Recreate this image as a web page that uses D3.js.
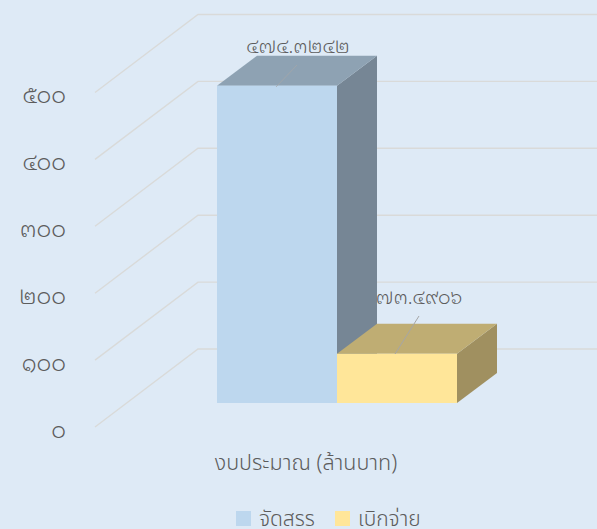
<!DOCTYPE html>
<html><head><meta charset="utf-8">
<script src="https://cdnjs.cloudflare.com/ajax/libs/d3/7.8.5/d3.min.js"></script>
<style>html,body{margin:0;padding:0;background:#deeaf6;overflow:hidden}
text{fill:#5c5c5c}
.d{font-family:"Noto Sans Thai Looped","DejaVu Sans",sans-serif;font-weight:300}
.t{font-family:"Noto Sans Thai","DejaVu Sans",sans-serif;font-weight:300}</style>
</head><body><svg id="c" width="597" height="529"></svg>
<script>
const tickValues=[0,100,200,300,400,500];
const tickLabels=["๐","๑๐๐","๒๐๐","๓๐๐","๔๐๐","๕๐๐"];
const seriesNames=["จัดสรร","เบิกจ่าย"];
const seriesValues=[474.3242,73.4906];
const valueLabels=["๔๗๔.๓๒๔๒","๗๓.๔๙๐๖"];
const category="งบประมาณ (ล้านบาท)";
const faceColors=[["#bdd7ee","#8ea2b3","#768695"],["#ffe699","#bfad73","#a09060"]];
const legendColors=["#bdd7ee","#ffe699"];

const svg=d3.select("#c");
const wallY=d3.scaleLinear().domain([0,500]).range([427,92.5]);
const barY=d3.scaleLinear().domain([0,500]).range([403,68.5]);
const x=d3.scaleBand().domain(seriesNames).range([217,457]).padding(0);
const depthFull={dx:103,dy:-78}, depthBar={dx:40,dy:-30};
const line=d3.line();

const grid=svg.append("g");
tickValues.forEach(v=>{
  grid.append("path").attr("d",line([[95,wallY(v)],[95+depthFull.dx,wallY(v)+depthFull.dy],[597,wallY(v)+depthFull.dy]]))
    .attr("fill","none").attr("stroke","#d9dad9").attr("stroke-width",1.4);
});
svg.append("g").selectAll("text").data(tickValues).join("text").attr("class","d")
  .attr("x",66).attr("y",v=>wallY(v)+10.5).attr("text-anchor","end")
  .attr("font-size",23).text((v,i)=>tickLabels[i]);

seriesNames.forEach((s,i)=>{
  const v=seriesValues[i],x0=x(s),x1=x0+x.bandwidth(),y0=barY(0),y1=barY(v),c=faceColors[i],g=svg.append("g");
  const {dx,dy}=depthBar;
  g.append("path").attr("fill",c[2]).attr("d",line([[x1,y1],[x1+dx,y1+dy],[x1+dx,y0+dy],[x1,y0]])+"Z");
  g.append("path").attr("fill",c[1]).attr("d",line([[x0,y1],[x0+dx,y1+dy],[x1+dx,y1+dy],[x1,y1]])+"Z");
  g.append("path").attr("fill",c[0]).attr("d",line([[x0,y1],[x1,y1],[x1,y0],[x0,y0]])+"Z");
});
const leaders=[[[276,87],[297,65]],[[395,354],[419,316]]];
const labelPos=[[298,53],[419,304]];
seriesValues.forEach((v,i)=>{
  svg.append("path").attr("d",line(leaders[i])).attr("stroke","#a6a6a6").attr("stroke-width",1).attr("fill","none").attr("opacity",i?1:.7);
  svg.append("text").attr("class","d").attr("x",labelPos[i][0]).attr("y",labelPos[i][1]).attr("text-anchor","middle").attr("font-size",19.6).text(valueLabels[i]);
});
svg.append("text").attr("class","t").attr("x",306).attr("y",470).attr("text-anchor","middle").attr("font-size",21.5).text(category);
const legendX=[236,335],legendTextX=[259,358];
seriesNames.forEach((s,i)=>{
  svg.append("rect").attr("x",legendX[i]).attr("y",511).attr("width",15).attr("height",15).attr("fill",legendColors[i]);
  svg.append("text").attr("class","t").attr("x",legendTextX[i]).attr("y",526).attr("font-size",21).text(s);
});
</script></body></html>
